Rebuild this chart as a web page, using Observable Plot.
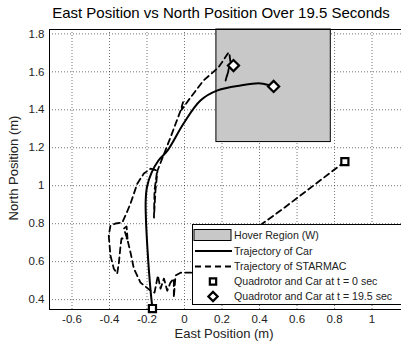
<!DOCTYPE html>
<html>
<head>
<meta charset="utf-8">
<script src="https://cdn.jsdelivr.net/npm/d3@7"></script>
<script src="https://cdn.jsdelivr.net/npm/@observablehq/plot@0.6"></script>
<style>
  html, body { margin: 0; padding: 0; background: white; }
  #chart { width: 401px; height: 345px; }
</style>
</head>
<body>
<div id="chart"></div>
<script>
// ---- data ----
const titleText = "East Position vs North Position Over 19.5 Seconds";
const xLabel = "East Position (m)";
const yLabel = "North Position (m)";
const eastTicks = [-0.6, -0.4, -0.2, 0, 0.2, 0.4, 0.6, 0.8, 1];
const northTicks = [0.4, 0.6, 0.8, 1, 1.2, 1.4, 1.6, 1.8];
const eastDomain = [-0.72, 1.157];
const northDomain = [0.348, 1.823];

const hoverEast = [0.17, 0.78];
const hoverNorth = [1.23, 1.823];

const carEast  = [-0.171, -0.181, -0.197, -0.206, -0.207, -0.200, -0.175, -0.139, -0.091, -0.005, 0.085, 0.176, 0.299, 0.405, 0.475];
const carNorth = [ 0.353,  0.447,  0.658,  0.832,  0.922,  0.995,  1.070,  1.133,  1.185,  1.328, 1.449, 1.502, 1.528, 1.539, 1.523];

const starEast  = [0.855, 0.512, 0.416, 0.245, 0.112, 0.043, -0.021, -0.048, -0.057, -0.057, -0.075, -0.092, -0.110, -0.128, -0.142, -0.160, -0.181, -0.235, -0.270, -0.288, -0.306, -0.324, -0.309, -0.304, -0.336, -0.341, -0.350, -0.359, -0.377, -0.395, -0.404, -0.395, -0.368, -0.332, -0.315, -0.288, -0.252, -0.217, -0.181, -0.146, -0.160, -0.163, -0.155, -0.144, -0.075, -0.021, -0.008, -0.015, 0.032, 0.101, 0.181, 0.235, 0.240, 0.245, 0.219, 0.235, 0.261];
const starNorth = [1.127, 0.869, 0.801, 0.669, 0.579, 0.542,  0.542,  0.527,  0.411,  0.511,  0.490,  0.447,  0.511,  0.458,  0.527,  0.437,  0.447,  0.490,  0.563,  0.648,  0.722,  0.774,  0.785,  0.722,  0.722,  0.685,  0.595,  0.537,  0.563,  0.632,  0.737,  0.790,  0.801,  0.806,  0.843,  0.906,  1.011,  1.064,  1.090,  1.080,  0.975,  0.832,  0.975,  1.080,  1.254,  1.396,  1.440,  1.400, 1.465, 1.554, 1.623, 1.702, 1.690, 1.649, 1.554, 1.607, 1.633];

const startEast = [-0.171, 0.855];
const startNorth = [0.353, 1.127];
const endEast = [0.475, 0.261];
const endNorth = [1.523, 1.633];

const legendLabels = ["Hover Region (W)", "Trajectory of Car", "Trajectory of STARMAC",
  "Quadrotor and Car at t = 0 sec", "Quadrotor and Car at t = 19.5 sec"];

// ---- tables ----
const hover = [{x1: hoverEast[0], x2: hoverEast[1], y1: hoverNorth[0], y2: hoverNorth[1]}];
const car = carEast.map((e, i) => ({e, n: carNorth[i]}));
const star = starEast.map((e, i) => ({e, n: starNorth[i]}));
const starts = startEast.map((e, i) => ({e, n: startNorth[i]}));
const ends = endEast.map((e, i) => ({e, n: endNorth[i]}));
const fmt = d => String(+d.toFixed(1));

const font = "'Liberation Sans', Arial, Helvetica, sans-serif";

const plot = Plot.plot({
  width: 401, height: 345,
  marginLeft: 49, marginRight: 0, marginTop: 29, marginBottom: 36,
  x: {domain: eastDomain},
  y: {domain: northDomain},
  style: {fontFamily: font, fontSize: "11.5px", background: "white", color: "#222"},
  marks: [
    Plot.gridX(eastTicks, {stroke: "#000", strokeOpacity: 0.55, strokeDasharray: "1,2"}),
    Plot.gridY(northTicks, {stroke: "#000", strokeOpacity: 0.55, strokeDasharray: "1,2"}),
    Plot.rect(hover, {x1: "x1", x2: "x2", y1: "y1", y2: "y2", fill: "#c8c8c8", stroke: "#000", strokeWidth: 1}),
    Plot.axisX({ticks: eastTicks, tickFormat: fmt, tickSize: 0, tickPadding: 5, label: null}),
    Plot.axisY({ticks: northTicks, tickFormat: fmt, tickSize: 0, tickPadding: 5, label: null}),
    Plot.ruleX([eastDomain[0]], {stroke: "#000"}),
    Plot.ruleY([northDomain[0], northDomain[1]], {stroke: "#000"}),
    Plot.line(car, {x: "e", y: "n", stroke: "#000", strokeWidth: 2, curve: "catmull-rom"}),
    Plot.line(star, {x: "e", y: "n", stroke: "#000", strokeWidth: 1.8, strokeDasharray: "6,4"}),
    Plot.dot(starts, {x: "e", y: "n", symbol: "square", r: 4, fill: "white", stroke: "#000", strokeWidth: 2.2}),
    Plot.dot(ends, {x: "e", y: "n", symbol: "diamond2", r: 5, fill: "white", stroke: "#000", strokeWidth: 2.2})
  ]
});

document.getElementById("chart").appendChild(plot);
const svg = d3.select(plot);

// titles
svg.append("text").attr("x", 221).attr("y", 18).attr("text-anchor", "middle")
  .attr("font-family", font).attr("font-size", 15).attr("fill", "#000").text(titleText);
svg.append("text").attr("x", 224).attr("y", 338).attr("text-anchor", "middle")
  .attr("font-family", font).attr("font-size", 13).attr("fill", "#222").text(xLabel);
svg.append("text").attr("transform", "translate(18,168) rotate(-90)").attr("text-anchor", "middle")
  .attr("font-family", font).attr("font-size", 13).attr("fill", "#222").text(yLabel);

// legend
const lg = svg.append("g").attr("font-family", font).attr("font-size", 10.6).attr("fill", "#222")
  .attr("text-anchor", "start");
lg.append("rect").attr("x", 192.5).attr("y", 224.5).attr("width", 212).attr("height", 80)
  .attr("fill", "white").attr("stroke", "#000");
const rowY = [235, 251, 266.5, 281.5, 296.5];
lg.append("rect").attr("x", 194).attr("y", rowY[0] - 5.5).attr("width", 37).attr("height", 11)
  .attr("fill", "#c8c8c8").attr("stroke", "#000");
lg.append("line").attr("x1", 195).attr("x2", 232).attr("y1", rowY[1]).attr("y2", rowY[1])
  .attr("stroke", "#000").attr("stroke-width", 2);
lg.append("line").attr("x1", 195).attr("x2", 232).attr("y1", rowY[2]).attr("y2", rowY[2])
  .attr("stroke", "#000").attr("stroke-width", 1.8).attr("stroke-dasharray", "6,4");
lg.append("path").attr("d", d3.symbol(d3.symbolSquare, 40)())
  .attr("transform", `translate(213,${rowY[3]})`).attr("fill", "white").attr("stroke", "#000").attr("stroke-width", 2.2);
lg.append("path").attr("d", d3.symbol(d3.symbolDiamond2, 55)())
  .attr("transform", `translate(213,${rowY[4]})`).attr("fill", "white").attr("stroke", "#000").attr("stroke-width", 2.2);
legendLabels.forEach((t, i) => {
  lg.append("text").attr("x", 234).attr("y", rowY[i]).attr("dy", "0.35em").attr("text-anchor", "start").text(t);
});
</script>
</body>
</html>
